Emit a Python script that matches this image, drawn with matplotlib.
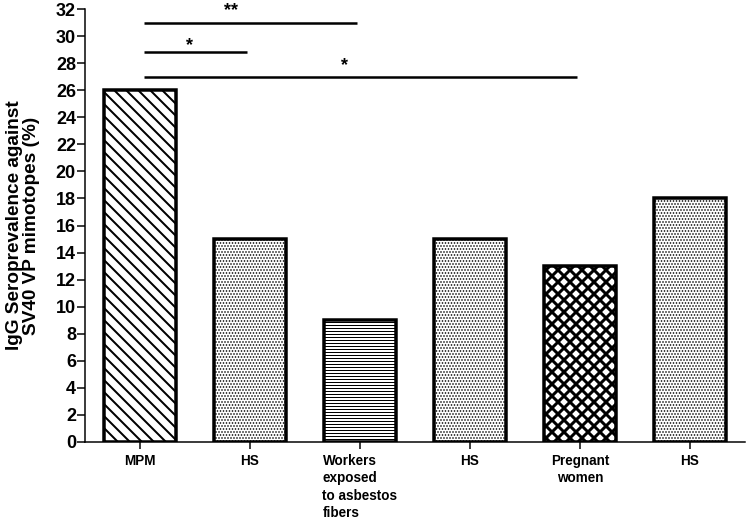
#!/usr/bin/env python3
"""IgG seroprevalence against SV40 VP mimotopes by cohort, hatched bar chart."""

import matplotlib

matplotlib.use("Agg")
import matplotlib.pyplot as plt

# data
groups = ["MPM", "HS", "Workers\nexposed\nto asbestos\nfibers", "HS", "Pregnant\nwomen", "HS"]
seroprevalence = [26, 15, 9, 15, 13, 18]
hatches = ["\\\\", "....", "----", "....", "xx", "...."]
hatch_widths = [2.0, 1.0, 1.0, 1.0, 3.0, 1.0]

# significance brackets: (first bar, last bar, height, label, label x, label y)
sig_pairs = [(0, 2, 31.0, "**", 0.83, 31.9), (0, 1, 28.8, "*", 0.45, 29.3), (0, 4, 27.0, "*", 1.86, 27.8)]
yticks = list(range(0, 33, 2))

DPI = 72
BOLD = "Liberation Sans"


def main():
    plt.rcParams["font.family"] = [BOLD, "DejaVu Sans"]
    plt.rcParams["font.weight"] = "bold"

    fig = plt.figure(figsize=(747 / DPI, 521 / DPI), dpi=DPI)
    ax = fig.add_axes([85 / 747, 79 / 521, 660 / 747, 433 / 521])

    xs = list(range(len(groups)))
    for x, val, hatch, hw in zip(xs, seroprevalence, hatches, hatch_widths):
        with plt.rc_context({"hatch.linewidth": hw}):
            bars = ax.bar(x, val, width=0.66, color="white", edgecolor="black",
                          linewidth=3.5, hatch=hatch, zorder=2)
        for b in bars:
            if hasattr(b, "set_hatch_linewidth"):
                b.set_hatch_linewidth(hw)

    for x0, x1, y, label, lx, ly in sig_pairs:
        ax.plot([x0 + 0.04, x1 - 0.03], [y, y], color="black", linewidth=2.5,
                solid_capstyle="butt", clip_on=False)
        ax.text(lx, ly, label, ha="center", va="center", fontsize=18,
                fontweight="bold")

    ax.set_xlim(-0.5, 5.5)
    ax.set_ylim(0, 32)
    ax.set_yticks(yticks)
    ax.set_yticklabels([str(t) for t in yticks], fontsize=18, fontweight="bold")
    ax.set_xticks(xs)
    ax.set_xticklabels(groups, fontsize=13.5, fontweight="bold",
                       linespacing=1.3, va="top")
    for lbl in ax.get_xticklabels():
        lbl.set_multialignment("left" if lbl.get_text().startswith("Workers") else "center")

    ax.spines["top"].set_visible(False)
    ax.spines["right"].set_visible(False)
    ax.spines["left"].set_linewidth(1.5)
    ax.spines["bottom"].set_linewidth(1.5)
    ax.tick_params(axis="y", direction="out", length=8, width=1.5, pad=1)
    ax.tick_params(axis="x", direction="out", length=7, width=1.5, pad=5)

    fig.text(23 / 747, 1 - 225.5 / 521,
             "IgG Seroprevalence against\nSV40 VP mimotopes (%)",
             rotation=90, ha="center", va="center", fontsize=19,
             fontweight="bold", linespacing=1.05)

    fig.savefig("out.png", dpi=DPI)


if __name__ == "__main__":
    main()
